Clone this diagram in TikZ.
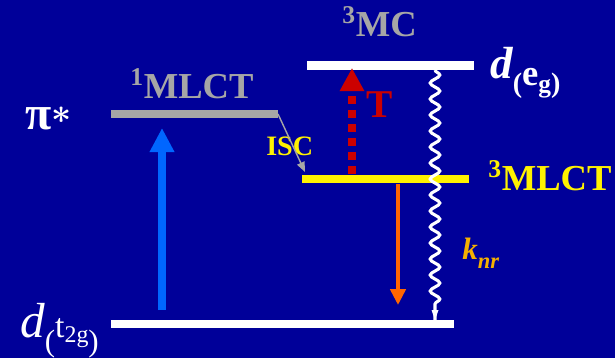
\documentclass[tikz,border=0pt]{standalone}
\usepackage{fontspec}
\setmainfont{Liberation Serif}
\usetikzlibrary{arrows.meta,decorations.pathmorphing}
\definecolor{bgblue}{HTML}{000099}
\definecolor{lvlgray}{HTML}{A6A6A6}
\definecolor{absblue}{HTML}{0066FF}
\definecolor{tred}{HTML}{CC0000}
\definecolor{emorange}{HTML}{FF6600}
\definecolor{knrgold}{HTML}{F5B000}

\begin{document}
\begin{tikzpicture}[x=0.025cm,y=-0.025cm,line cap=butt,
  level/.style={line width=5.7pt},
  lbl/.style={inner sep=0pt,anchor=base west,font=\fontsize{26}{28}\selectfont\bfseries},
  sz/.style={font=\fontsize{#1}{#1}\selectfont\bfseries}]
\fill[bgblue] (0,0) rectangle (615,358);
\useasboundingbox (0,0) rectangle (615,358);
% energy levels
\coordinate (s1-l) at (111,114);  \coordinate (s1-r) at (278,114);
\coordinate (mc-l) at (307,65.5); \coordinate (mc-r) at (474,65.5);
\coordinate (t1-l) at (302,178.5);\coordinate (t1-r) at (469,178.5);
\coordinate (gs-l) at (111,324);  \coordinate (gs-r) at (454,324);
\draw[level,lvlgray] (s1-l) -- (s1-r);
\draw[level,white] (mc-l) -- (mc-r);
\draw[level,yellow] (t1-l) -- (t1-r);
\draw[level,white] (gs-l) -- (gs-r);
% labels
\node[lbl,lvlgray] (s1lab) at (130,98) {\textsuperscript{1}MLCT};
\node[lbl,lvlgray] (mclab) at (342,36) {\textsuperscript{3}MC};
\node[lbl,yellow] (t1lab) at (488,190) {\textsuperscript{3}MLCT};
\node[lbl,sz=34,white] (pilab) at (25,129)
  {π{\fontsize{29}{29}\selectfont\boldmath\raisebox{4pt}{$\ast$}}};
\node[lbl,white] (eglab) at (490,78)
  {{\fontsize{32}{32}\selectfont\itshape d}%
   \raisebox{-10.6pt}{\fontsize{20}{20}\selectfont(}%
   \raisebox{-5pt}{\fontsize{26}{26}\selectfont e}%
   \raisebox{-10pt}{\fontsize{18}{18}\selectfont g}%
   \raisebox{-10.6pt}{\fontsize{20}{20}\selectfont)}};
\node[lbl,white,font=\fontsize{35}{35}\selectfont] (t2glab) at (20,337)
  {\itshape d\upshape
   \raisebox{-10pt}{\fontsize{22}{22}\selectfont(}%
   \raisebox{-0.7pt}{\fontsize{24}{24}\selectfont t}%
   \raisebox{-4pt}{\fontsize{17}{17}\selectfont 2g}%
   \raisebox{-10pt}{\fontsize{22}{22}\selectfont)}};
\node[lbl,sz=28,tred] (tlab) at (366,117) {T};
\node[lbl,sz=20,yellow] (isclab) at (266,155) {ISC};
\node[lbl,knrgold,font=\fontsize{22}{22}\selectfont\bfseries\itshape] (knrlab) at (462,259)
  {k\raisebox{-0.3em}{\fontsize{16}{16}\selectfont nr}};
% transitions
\coordinate (abs-s) at (162,310); \coordinate (abs-e) at (162,128);
\coordinate (tt-s) at (352,174);  \coordinate (tt-e) at (352,68);
\coordinate (em-s) at (398,184);  \coordinate (em-e) at (398,305);
\coordinate (nr-s) at (435,70);   \coordinate (nr-e) at (435,320);
\draw[absblue,line width=5.7pt,-{Triangle[length=0.6cm,width=0.58cm]}] (abs-s) -- (abs-e);
\draw[tred,line width=5.7pt,dash pattern=on 5.5pt off 4.5pt,-{Triangle[length=0.58cm,width=0.58cm]}] (tt-s) -- (tt-e);
\draw[emorange,line width=2.8pt,-{Triangle[length=0.4cm,width=0.38cm]}] (em-s) -- (em-e);
\draw[lvlgray,line width=1pt,-{Triangle[length=0.25cm,width=0.2cm]}] (s1-r) -- (305,172);
\draw[white,line width=2.2pt,decorate,decoration={snake,segment length=0.4cm,amplitude=0.12cm,post length=0.2cm}] (nr-s) -- (nr-e);
\fill[white] (nr-e) ++(-3.5,-10) -- ++(7,0) -- (nr-e) -- cycle;
\end{tikzpicture}
\end{document}
